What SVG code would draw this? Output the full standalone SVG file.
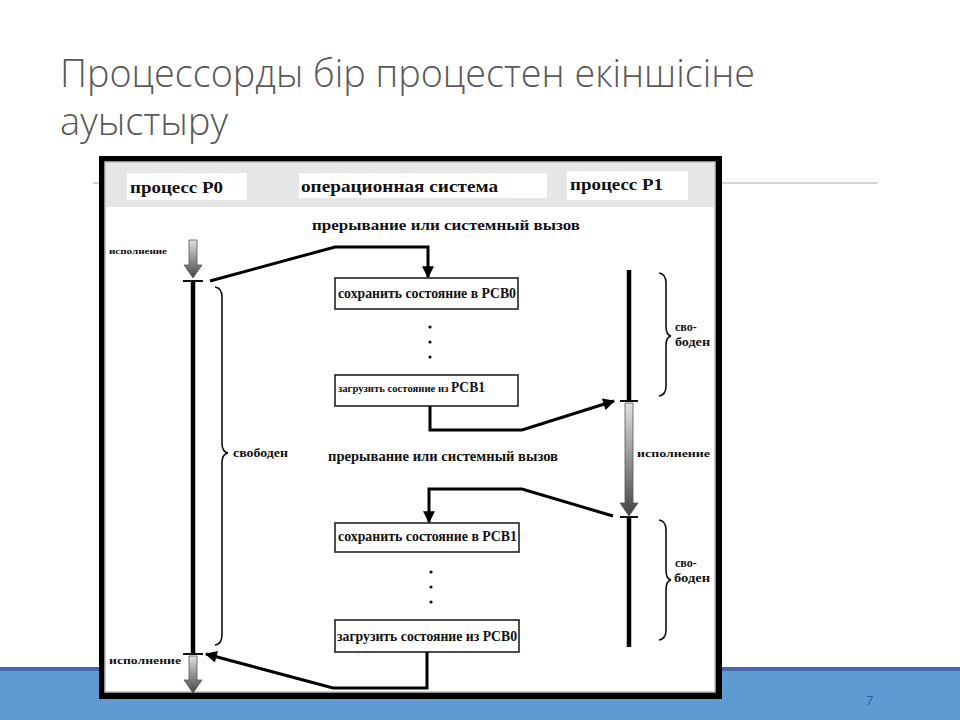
<svg xmlns="http://www.w3.org/2000/svg" width="960" height="720" viewBox="0 0 960 720">
<defs>
<style>
.title{font-family:"Open Sans","Liberation Sans",sans-serif;font-weight:300;font-size:38px;fill:#595959}
.hd{font-family:"Liberation Serif","DejaVu Serif",serif;font-weight:bold;font-size:17px;fill:#111}
.lb{font-family:"Liberation Serif","DejaVu Serif",serif;font-weight:bold;fill:#111}
.box{fill:#fff;stroke:#222;stroke-width:1.6}
.conn{fill:none;stroke:#000;stroke-width:3;stroke-linejoin:miter}
.bar{stroke:#000;stroke-width:4.5}
.tick{stroke:#111;stroke-width:2}
.brace{fill:none;stroke:#111;stroke-width:1.6}
.garrow{fill:url(#g);stroke:#555;stroke-width:0.8}
.dot{fill:#111}
</style>
<linearGradient id="g" x1="0" y1="0" x2="0" y2="1">
<stop offset="0" stop-color="#e2e2e2"/>
<stop offset="1" stop-color="#444"/>
</linearGradient>
<marker id="ah" viewBox="0 0 10 10" refX="9" refY="5" markerWidth="14" markerHeight="12" markerUnits="userSpaceOnUse" orient="auto">
<path d="M0,0 L10,5 L0,10 z" fill="#000"/>
</marker>
</defs>
<rect width="960" height="720" fill="#fff"/>
<g id="slide-band">
<rect x="0" y="667" width="960" height="4" fill="#4666ae"/>
<rect x="0" y="671" width="960" height="49" fill="#5f9bd2"/>
<text x="866" y="705" font-family="Open Sans, Liberation Sans, sans-serif" font-size="13" fill="#2f5f92">7</text>
</g>
<g id="title">
<text class="title" x="60" y="87" textLength="695" lengthAdjust="spacingAndGlyphs">Процессорды бір процестен екіншісіне</text>
<text class="title" x="60" y="135" textLength="168" lengthAdjust="spacingAndGlyphs">ауыстыру</text>
</g>
<line x1="93" y1="183" x2="878" y2="183" stroke="#a6a6a6" stroke-width="1"/>
<g id="frame">
<rect x="99" y="156" width="623" height="543" fill="#000"/>
<rect x="105" y="162" width="610" height="530" fill="#fff" stroke="#bdbdbd" stroke-width="1.5"/>
<rect x="106" y="163" width="608" height="44" fill="#e6e6e6"/>
</g>
<g id="hdr-p0">
<rect x="127" y="173" width="120" height="27" fill="#fff"/>
<text class="hd" x="130" y="193" font-size="18" textLength="93" lengthAdjust="spacingAndGlyphs">процесс P0</text>
</g>
<g id="hdr-os">
<rect x="299" y="173" width="248" height="25" fill="#fff"/>
<text class="hd" x="301" y="192" font-size="16" textLength="197" lengthAdjust="spacingAndGlyphs">операционная система</text>
</g>
<g id="hdr-p1">
<rect x="567" y="171" width="121" height="29" fill="#fff"/>
<text class="hd" x="570" y="190" font-size="18" textLength="93" lengthAdjust="spacingAndGlyphs">процесс P1</text>
</g>
<g id="label-int1">
<text class="lb" x="312" y="230" font-size="15" textLength="268" lengthAdjust="spacingAndGlyphs">прерывание или системный вызов</text>
</g>
<g id="label-int2">
<text class="lb" x="328" y="461" font-size="14" textLength="230" lengthAdjust="spacingAndGlyphs">прерывание или системный вызов</text>
</g>
<g id="p0-timeline">
<path class="garrow" d="M189,240 H197 V265 H202 L193,278 L184,265 H189 Z"/>
<line class="bar" x1="193" y1="281" x2="193" y2="654"/>
<line class="tick" x1="183" y1="281" x2="203" y2="281"/>
<line class="tick" x1="183" y1="654" x2="203" y2="654"/>
<path class="garrow" d="M189,656 H197 V680 H202 L193,693 L184,680 H189 Z"/>
<text class="lb" x="109" y="254" font-size="9" textLength="58" lengthAdjust="spacingAndGlyphs">исполнение</text>
<text class="lb" x="109" y="664" font-size="11" textLength="72" lengthAdjust="spacingAndGlyphs">исполнение</text>
<path class="brace" d="M215,287 Q222,288 222,297 V443 Q222,452 228,453 Q222,454 222,463 V635 Q222,644 215,645"/>
<text class="lb" x="233" y="457" font-size="12" textLength="55" lengthAdjust="spacingAndGlyphs">свободен</text>
</g>
<g id="p1-timeline">
<line class="bar" x1="629" y1="270" x2="629" y2="401"/>
<line class="tick" x1="620" y1="401" x2="638" y2="401"/>
<path class="garrow" d="M625,403 H633 V503 H638 L629,516 L620,503 H625 Z"/>
<line class="tick" x1="620" y1="517" x2="638" y2="517"/>
<line class="bar" x1="629" y1="517" x2="629" y2="647"/>
<path class="brace" d="M659,273 Q666,274 666,283 V326 Q666,335 671,336 Q666,337 666,346 V386 Q666,395 659,396"/>
<text class="lb" x="675" y="331" font-size="12">сво-</text>
<text class="lb" x="675" y="346" font-size="12" textLength="35" lengthAdjust="spacingAndGlyphs">боден</text>
<text class="lb" x="637" y="457" font-size="11" textLength="73" lengthAdjust="spacingAndGlyphs">исполнение</text>
<path class="brace" d="M659,520 Q666,521 666,530 V570 Q666,579 671,580 Q666,581 666,590 V630 Q666,639 659,640"/>
<text class="lb" x="675" y="567" font-size="12">сво-</text>
<text class="lb" x="674" y="582" font-size="12" textLength="36" lengthAdjust="spacingAndGlyphs">боден</text>
</g>
<g id="box-save0">
<rect class="box" x="335" y="278" width="183" height="31"/>
<text class="lb" x="338" y="298" font-size="14" textLength="178" lengthAdjust="spacingAndGlyphs">сохранить состояние в PCB0</text>
</g>
<g id="dots1">
<circle class="dot" cx="430" cy="327" r="1.6"/>
<circle class="dot" cx="430" cy="342" r="1.6"/>
<circle class="dot" cx="430" cy="357" r="1.6"/>
</g>
<g id="box-load1">
<rect class="box" x="335" y="375" width="183" height="31"/>
<text class="lb" x="338" y="392" font-size="11" textLength="147" lengthAdjust="spacingAndGlyphs">загрузить состояние из <tspan font-size="14">PCB1</tspan></text>
</g>
<g id="box-save1">
<rect class="box" x="335" y="523" width="184" height="29"/>
<text class="lb" x="338" y="541" font-size="14" textLength="179" lengthAdjust="spacingAndGlyphs">сохранить состояние в PCB1</text>
</g>
<g id="dots2">
<circle class="dot" cx="431" cy="572" r="1.6"/>
<circle class="dot" cx="431" cy="587" r="1.6"/>
<circle class="dot" cx="431" cy="602" r="1.6"/>
</g>
<g id="box-load0">
<rect class="box" x="335" y="620" width="184" height="32"/>
<text class="lb" x="337" y="641" font-size="14" textLength="180" lengthAdjust="spacingAndGlyphs">загрузить состояние из PCB0</text>
</g>
<g id="connectors">
<polyline class="conn" points="210,281 335,247 428,247 428,277" marker-end="url(#ah)"/>
<polyline class="conn" points="430,406 430,430 522,430 614,401" marker-end="url(#ah)"/>
<polyline class="conn" points="613,516 522,489 429,489 429,522" marker-end="url(#ah)"/>
<polyline class="conn" points="427,652 427,688 333,688 206,654" marker-end="url(#ah)"/>
</g>
</svg>
